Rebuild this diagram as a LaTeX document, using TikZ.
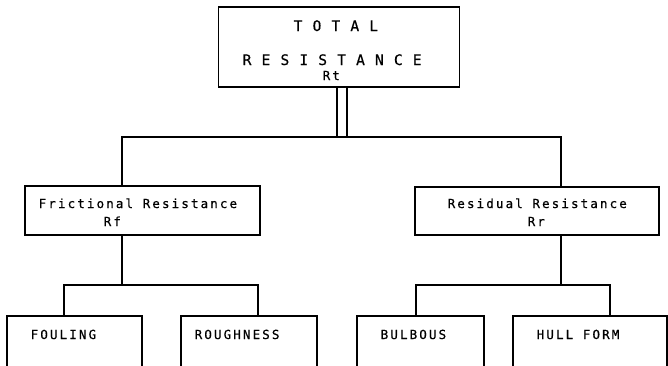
\documentclass[tikz,border=0pt]{standalone}
\usepackage{fontspec}
\newfontfamily\plotfont[LetterSpace=17,FakeBold=0.6]{DejaVu Sans Mono}
\newfontfamily\titlefont[LetterSpace=10,FakeBold=0.6]{DejaVu Sans Mono}
\usetikzlibrary{calc}

\begin{document}
\begin{tikzpicture}[x=1pt, y=-1pt, line width=1.4pt,
    box/.style={draw, rectangle, inner sep=0pt},
    txt/.style={font=\plotfont\fontsize{12.5}{13}\selectfont, inner sep=0pt, anchor=base west},
    ttl/.style={font=\titlefont\fontsize{14.5}{15}\selectfont, inner sep=0pt, anchor=base west}]

    % Cadre de la page
    \useasboundingbox (0,0) rectangle (668,365);
    \clip (0,0) rectangle (668,365);

    % Boites
    \node[box, minimum width=241pt, minimum height=80pt] (total) at (339,47) {};
    \node[box, minimum width=235pt, minimum height=49pt] (frict) at (142.5,210.5) {};
    \node[box, minimum width=244pt, minimum height=48pt] (resid) at (537,211) {};
    \foreach \nm/\cx/\w in {foul/74.5/135, rough/249/136, bulb/420.5/127, hull/590/154} {
        \node[box, minimum width=\w pt, minimum height=74pt] (\nm) at (\cx,353) {};
    }

    % Textes
    \node[ttl] (tTotal) at (293,31) {T O T A L};
    \node[ttl] (tRes) at (242,65) {R E S I S T A N C E};
    \node[txt] (tRt) at (322,80) {Rt};
    \node[txt] (tFrict) at (38,208) {Frictional Resistance};
    \node[txt] (tRf) at (103,226) {Rf};
    \node[txt] (tResid) at (447,208) {Residual Resistance};
    \node[txt] (tRr) at (527,226) {Rr};
    \node[txt] (tFoul) at (30,339) {FOULING};
    \node[txt] (tRough) at (194,339) {ROUGHNESS};
    \node[txt] (tBulb) at (380,339) {BULBOUS};
    \node[txt] (tHull) at (536,339) {HULL FORM};

    % Points de branchement
    \coordinate (hub) at (342,137);
    \coordinate (fl) at (122,137);
    \coordinate (fr) at (561,137);
    \coordinate (ff) at (64,285);
    \coordinate (fg) at (258,285);
    \coordinate (rb) at (416,285);
    \coordinate (rh) at (610,285);

    % Liaisons
    \draw[double distance=8.6pt] (hub |- total.south) -- (hub);
    \draw (fl |- frict.north) -- (fl) -- (fr) -- (fr |- resid.north);
    \draw (fl |- frict.south) -- (fl |- ff);
    \draw (ff |- foul.north) -- (ff) -- (fg) -- (fg |- rough.north);
    \draw (fr |- resid.south) -- (fr |- rb);
    \draw (rb |- bulb.north) -- (rb) -- (rh) -- (rh |- hull.north);

\end{tikzpicture}
\end{document}
